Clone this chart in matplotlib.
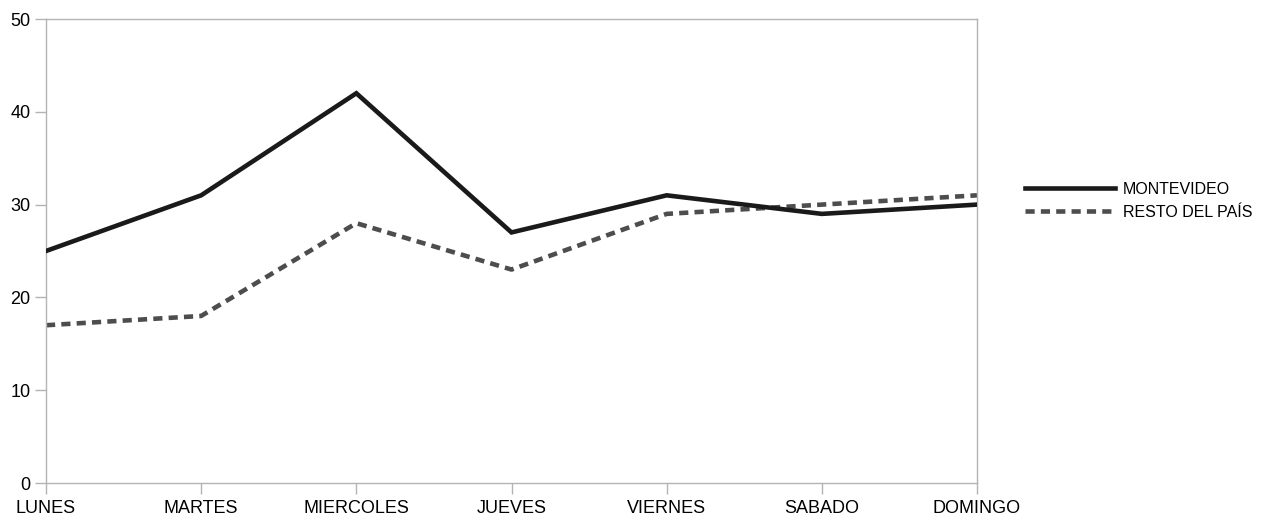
import matplotlib.pyplot as plt
from matplotlib.lines import Line2D

# Days of the week and values per series
days = ["LUNES", "MARTES", "MIERCOLES", "JUEVES", "VIERNES", "SABADO", "DOMINGO"]
montevideo = [25, 31, 42, 27, 31, 29, 30]
resto = [17, 18, 28, 23, 29, 30, 31]

plt.rcParams['font.family'] = ['Liberation Sans', 'DejaVu Sans']

fig = plt.figure(figsize=(12.63, 5.16), dpi=100)
ax = fig.add_axes([46 / 1263, 1 - 483 / 516, 931 / 1263, 464 / 516])

lw = 3.3
dash = (2.0, 1.35)
x = range(len(days))
ax.plot(x, montevideo, color="#1a1a1a", lw=lw, solid_joinstyle="miter",
        label="MONTEVIDEO", zorder=3)
ax.plot(x, resto, color="#4d4d4d", lw=lw, dashes=dash,
        dash_capstyle="butt", label="RESTO DEL PAÍS", zorder=2)

ax.set_xlim(0, len(days) - 1)
ax.set_ylim(0, 50)
ax.set_yticks(range(0, 51, 10))
ax.set_xticks(list(x))
ax.set_xticklabels(days)

gray = "#b3b3b3"
for s in ax.spines.values():
    s.set_color(gray)
    s.set_linewidth(1)
ax.tick_params(axis="both", colors=gray, labelcolor="black", labelsize=13,
               length=8, width=1, direction="out")
ax.tick_params(axis="y", pad=3)
ax.tick_params(axis="x", pad=4)

handles = [Line2D([], [], color="#1a1a1a", lw=lw),
           Line2D([], [], color="#4d4d4d", lw=lw, dashes=dash,
                  dash_capstyle="butt")]
fig.legend(handles, ["MONTEVIDEO", "RESTO DEL PAÍS"], loc="center left",
           bbox_to_anchor=(1011 / 1263, 1 - 201 / 516), frameon=False,
           fontsize=11.5, handlelength=5.6, handletextpad=0.5,
           labelspacing=0.5)

fig.savefig("out.png", dpi=100)
